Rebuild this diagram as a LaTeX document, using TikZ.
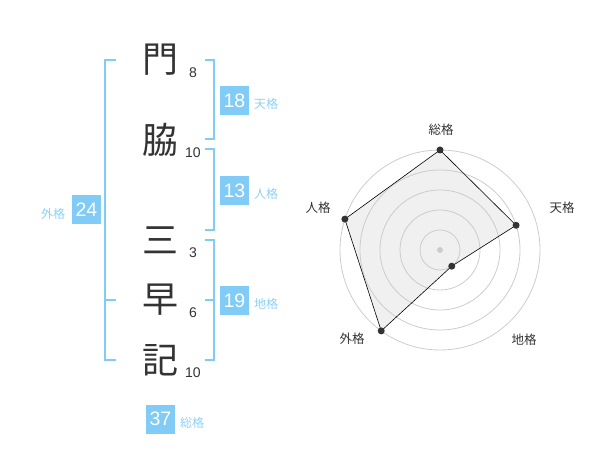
\documentclass[tikz,border=0pt]{standalone}
\usepackage{fontspec}
\setmainfont{Liberation Sans}
\newfontfamily\jpfont{Noto Sans CJK JP}
\usetikzlibrary{calc}
\definecolor{kakublue}{HTML}{80CCF7}
\definecolor{kakulabel}{HTML}{8ED0F5}
\definecolor{inkgray}{HTML}{333333}
\definecolor{ringgray}{HTML}{CCCCCC}
\definecolor{areagray}{HTML}{F0F0F0}

\begin{document}
\begin{tikzpicture}[x=1pt,y=-1pt]
\tikzstyle{kanji}=[font=\jpfont\fontsize{36}{36}\selectfont,text=inkgray,inner sep=0pt]
\tikzstyle{stroke}=[font=\fontsize{14}{14}\selectfont,text=inkgray,inner sep=0pt]
\tikzstyle{kakubox}=[fill=kakublue,text=white,minimum size=29pt,inner sep=0pt,font=\fontsize{19.5}{19.5}\selectfont]
\tikzstyle{kakuname}=[text=kakulabel,inner sep=0pt,font=\jpfont\fontsize{12}{12}\selectfont]
\tikzstyle{bracket}=[draw=kakublue,line width=2pt]
\tikzstyle{ring}=[draw=ringgray,line width=0.8pt]
\tikzstyle{vertex}=[circle,fill=inkgray,minimum size=7pt,inner sep=0pt]
\useasboundingbox (0,0) rectangle (600,470);
% name and stroke counts
\foreach \name/\ch/\num/\y in {
	mon/門/8/60,
	waki/脇/10/140,
	mi/三/3/240,
	haya/早/6/300,
	ki/記/10/360}
{
	\node[kanji] (\name) at (160,\y) {\ch};
	\node[stroke] (\name n) at (193,\y+12.5) {\num};
}
% brackets
\draw[bracket] (116,60) -- (105,60) -- (105,360) -- (116,360);
\draw[bracket] (105,300) -- (116,300);
\draw[bracket] (205,60) -- (214,60) -- (214,139) -- (205,139);
\draw[bracket] (205,149) -- (214,149) -- (214,230) -- (205,230);
\draw[bracket] (205,240) -- (214,240) -- (214,360) -- (205,360);
\draw[bracket] (205,300) -- (214,300);
% scores
\foreach \name/\num/\label/\point/\lpoint in {
	ten/18/天格/{234.5,100.5}/{266,104},
	jin/13/人格/{234.5,190.5}/{266,194},
	chi/19/地格/{234.5,300.5}/{266,304},
	gai/24/外格/{86.5,210}/{53,214},
	so/37/総格/{160.5,419}/{192,423}}
{
	\node[kakubox] (\name) at (\point) {\num};
	\node[kakuname] (\name l) at (\lpoint) {\label};
}
% radar chart
\coordinate (c) at (440,250);
\coordinate (pso) at ($(c)+(-90:100)$);
\coordinate (pten) at ($(c)+(-18:80)$);
\coordinate (pchi) at ($(c)+(54:20)$);
\coordinate (pgai) at ($(c)+(126:100)$);
\coordinate (pjin) at ($(c)+(198:100)$);
\fill[areagray] (pso) -- (pten) -- (pchi) -- (pgai) -- (pjin) -- cycle;
\foreach \r in {20,40,60,80,100}
	\draw[ring] (c) circle (\r);
\fill[ringgray] (c) circle (3);
\draw[black,line width=0.6pt] (pso) -- (pten) -- (pchi) -- (pgai) -- (pjin) -- cycle;
\foreach \p in {pso,pten,pchi,pgai,pjin}
	\node[vertex] (v\p) at (\p) {};
\foreach \name/\label/\point in {
	rso/総格/{441,130},
	rten/天格/{562,208},
	rchi/地格/{524,340},
	rgai/外格/{352,339},
	rjin/人格/{318,208}}
	\node[kakuname,text=inkgray,font=\jpfont\fontsize{12.5}{12.5}\selectfont] (\name) at (\point) {\label};
\end{tikzpicture}
\end{document}
